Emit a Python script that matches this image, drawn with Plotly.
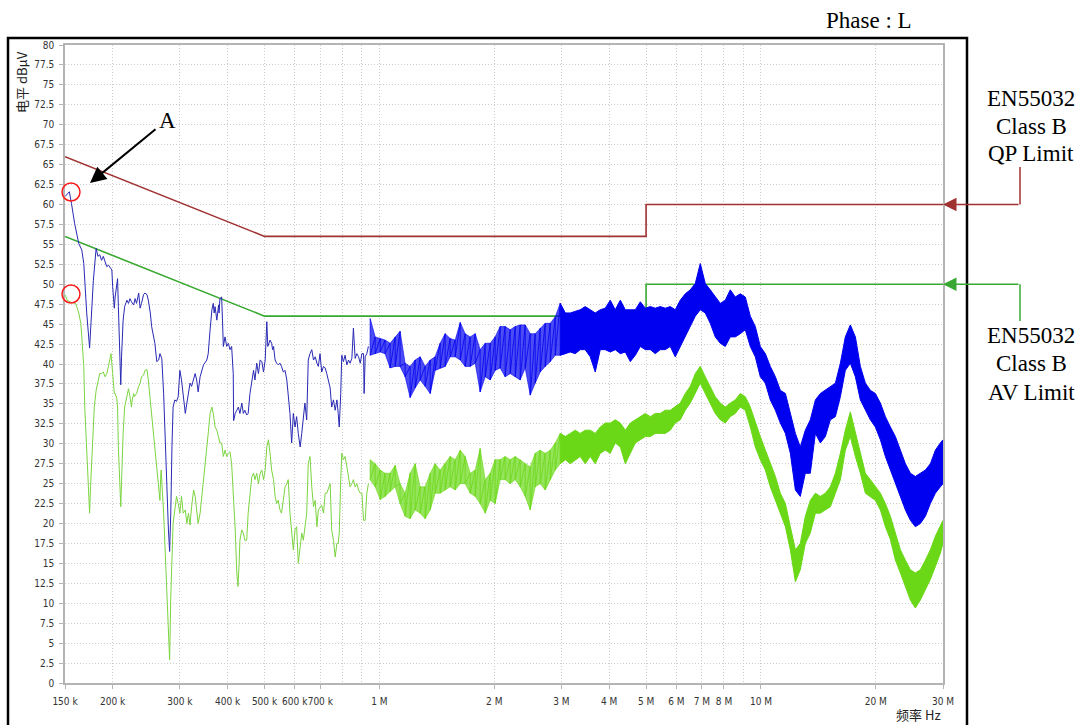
import plotly.graph_objects as go

# ---------------- measured spectrum, 150 kHz .. 1 MHz (single sweep line) ----------------
BLUE_LF_KHZ = [
    150, 154, 156, 159, 163, 166, 168, 171, 174, 176,
    178, 181, 183, 185, 187, 189, 191, 193, 195, 197,
    199, 200, 202, 203, 205, 206, 207, 209, 210, 211,
    213, 215, 218, 220, 222, 224, 227, 229, 231, 234,
    236, 238, 241, 243, 246, 248, 251, 253, 256, 258,
    261, 264, 266, 269, 272, 274, 277, 280, 282, 284,
    286, 288, 291, 294, 297, 300, 303, 306, 310, 313,
    316, 319, 322, 326, 329, 332, 335, 339, 342, 346,
    353, 356, 360, 364, 367, 369, 371, 375, 379, 380,
    382, 386, 388, 390, 394, 398, 402, 406, 410, 414,
    415, 419, 423, 427, 431, 436, 440, 444, 449, 453,
    458, 463, 468, 472, 477, 482, 487, 492, 497, 502,
    507, 510, 517, 522, 525, 528, 533, 538, 543, 549,
    554, 560, 566, 572, 577, 583, 589, 595, 601, 607,
    613, 620, 626, 632, 638, 645, 651, 658, 665, 672,
    679, 686, 692, 699, 706, 714, 721, 728, 736, 743,
    750, 758, 766, 774, 780, 785, 792, 797, 805, 813,
    822, 830, 838, 847, 855, 860, 864, 873, 882, 891,
    900, 909, 912, 918, 927, 936,
]
BLUE_LF_DB = [
    61.0, 61.6, 60.1, 57.6, 55.1, 54.3, 52.6, 46.4, 42.0, 46.4,
    50.5, 54.5, 53.5, 53.7, 53.0, 53.5, 52.8, 52.2, 52.4, 52.0,
    51.8, 49.7, 47.0, 48.4, 50.5, 50.7, 47.2, 40.5, 37.4, 40.9,
    45.5, 47.2, 48.0, 47.6, 48.2, 47.8, 47.4, 48.2, 47.6, 48.9,
    47.0, 47.6, 48.7, 48.9, 48.7, 48.0, 46.4, 44.7, 43.6, 42.6,
    40.3, 40.5, 41.3, 40.7, 36.3, 31.3, 25.5, 19.2, 16.5, 21.3,
    29.6, 34.6, 35.5, 35.3, 35.9, 39.2, 38.0, 36.3, 33.8, 35.1,
    36.3, 37.6, 37.2, 38.0, 38.8, 38.0, 36.5, 38.4, 39.2, 39.9,
    40.5, 41.3, 44.3, 46.8, 47.6, 46.4, 47.2, 45.5, 47.4, 46.4,
    48.2, 48.4, 45.5, 42.2, 43.4, 42.2, 42.6, 41.8, 42.2, 38.8,
    32.9, 33.8, 34.2, 34.6, 33.8, 35.1, 33.8, 34.2, 33.6, 33.8,
    36.3, 38.0, 39.2, 38.0, 40.1, 38.8, 40.5, 40.3, 39.0, 40.5,
    45.3, 42.2, 43.0, 42.6, 41.8, 42.2, 40.5, 40.1, 39.9, 40.1,
    39.7, 39.0, 39.2, 38.0, 36.3, 33.8, 30.1, 33.8, 32.1, 33.4,
    31.3, 29.6, 31.3, 33.8, 35.1, 33.0, 40.5, 41.3, 41.8, 40.5,
    40.9, 40.1, 39.7, 41.3, 39.0, 39.7, 39.5, 38.8, 37.6, 37.0,
    34.6, 35.5, 34.2, 35.5, 33.8, 32.1, 36.3, 41.1, 40.3, 41.1,
    39.9, 40.5, 40.1, 40.7, 44.5, 41.1, 40.7, 41.3, 40.9, 40.1,
    41.3, 41.3, 36.3, 40.9, 41.3, 42.2,
]

GREEN_LF_KHZ = [
    150, 152, 156, 160, 163, 165, 166, 168, 169, 171,
    173, 174, 175, 176, 178, 179, 181, 183, 185, 187,
    189, 191, 193, 195, 197, 198, 200, 202, 203, 205,
    206, 207, 210, 211, 213, 215, 218, 220, 222, 224,
    225, 227, 228, 231, 234, 236, 238, 241, 243, 246,
    248, 251, 253, 256, 258, 261, 264, 266, 267, 268,
    272, 274, 277, 280, 282, 284, 286, 288, 291, 294,
    297, 300, 303, 306, 310, 313, 316, 319, 322, 326,
    329, 332, 335, 339, 342, 346, 353, 356, 360, 364,
    367, 371, 375, 379, 382, 386, 390, 394, 398, 402,
    406, 410, 414, 419, 423, 426, 429, 431, 436, 440,
    444, 449, 453, 458, 463, 468, 472, 477, 482, 487,
    492, 497, 502, 507, 512, 517, 522, 528, 533, 538,
    543, 549, 554, 560, 566, 572, 577, 583, 589, 595,
    601, 607, 613, 620, 626, 632, 638, 645, 651, 658,
    665, 672, 679, 686, 692, 699, 706, 714, 721, 728,
    736, 743, 750, 758, 766, 774, 780, 785, 792, 797,
    805, 813, 822, 830, 838, 847, 855, 864, 873, 882,
    891, 900, 909, 918, 927, 936,
]
GREEN_LF_DB = [
    48.7, 48.0, 47.7, 47.6, 46.4, 45.1, 43.4, 39.7, 34.6, 29.6,
    24.6, 21.3, 24.6, 27.5, 31.3, 34.6, 36.7, 38.0, 38.8, 38.8,
    39.0, 38.4, 38.8, 39.7, 40.9, 41.3, 38.8, 36.3, 36.3, 35.7,
    34.6, 29.6, 22.1, 25.5, 31.3, 34.6, 36.3, 36.9, 35.9, 34.6,
    35.5, 36.3, 35.9, 36.3, 37.2, 37.6, 38.4, 38.6, 39.2, 39.3,
    38.0, 35.5, 32.9, 31.3, 29.6, 27.1, 24.2, 22.9, 25.5, 26.7,
    21.3, 17.1, 12.9, 6.6, 2.9, 10.8, 17.1, 20.0, 21.7, 23.4,
    22.5, 21.3, 23.4, 21.3, 21.7, 20.0, 21.3, 19.8, 22.1, 24.2,
    23.4, 21.7, 20.0, 21.3, 23.0, 25.5, 29.6, 31.3, 33.8, 34.6,
    33.8, 32.1, 31.7, 30.9, 30.1, 30.1, 28.4, 29.2, 28.4, 28.8,
    29.0, 27.5, 24.2, 19.2, 13.8, 12.1, 15.0, 17.9, 19.2, 18.8,
    17.9, 17.9, 21.3, 23.8, 25.8, 26.3, 25.5, 26.3, 25.0, 26.3,
    26.7, 25.5, 26.7, 29.6, 30.5, 28.8, 26.7, 25.5, 23.4, 22.5,
    22.9, 21.7, 21.3, 22.9, 24.6, 25.0, 25.5, 21.3, 18.8, 16.7,
    19.2, 19.6, 15.0, 17.1, 18.8, 17.9, 19.6, 21.3, 27.5, 28.4,
    24.6, 22.1, 22.9, 19.6, 21.7, 22.1, 22.3, 21.3, 23.8, 23.8,
    24.6, 25.0, 19.2, 17.9, 15.8, 17.5, 17.5, 18.8, 25.5, 28.8,
    28.0, 28.4, 27.1, 25.5, 24.6, 25.0, 25.5, 24.6, 25.0, 24.2,
    23.8, 23.8, 20.4, 20.4, 23.8, 25.0,
]

# ---------------- dense sweep above ~1 MHz: upper / lower envelope of the noise band ----------------
SWEEP_MHZ = [
    0.946, 0.975, 1.005, 1.035, 1.067, 1.100, 1.133, 1.168, 1.204, 1.241,
    1.279, 1.318, 1.359, 1.400, 1.443, 1.487, 1.533, 1.580, 1.629, 1.678,
    1.730, 1.783, 1.837, 1.894, 1.952, 2.011, 2.073, 2.136, 2.202, 2.270,
    2.339, 2.411, 2.485, 2.561, 2.639, 2.720, 2.804, 2.890, 2.978, 3.070,
    3.164, 3.261, 3.360, 3.463, 3.570, 3.679, 3.792, 3.908, 4.028, 4.151,
    4.280, 4.411, 4.546, 4.685, 4.829, 4.977, 5.129, 5.286, 5.446, 5.613,
    5.785, 5.962, 6.145, 6.334, 6.528, 6.729, 6.935, 7.146, 7.365, 7.591,
    7.824, 8.064, 8.311, 8.565, 8.828, 9.099, 9.377, 9.665, 9.961, 10.27,
    10.58, 10.91, 11.24, 11.59, 11.94, 12.31, 12.68, 13.07, 13.47, 13.89,
    14.31, 14.75, 15.20, 15.67, 16.15, 16.64, 17.15, 17.68, 18.22, 18.78,
    19.35, 19.95, 20.56, 21.19, 21.84, 22.51, 23.20, 23.91, 24.64, 25.39,
    26.17, 26.97, 27.80, 28.65, 29.53, 30.0,
]
BLUE_HI = [
    45.7, 43.4, 43.2, 43.0, 42.6, 43.4, 44.1, 40.1, 39.7, 40.5,
    40.9, 39.7, 40.5, 40.9, 42.6, 43.8, 43.2, 43.0, 45.2, 43.8,
    43.4, 43.8, 41.8, 42.6, 42.6, 43.4, 44.7, 44.7, 44.3, 44.7,
    44.9, 44.9, 43.8, 43.8, 44.5, 45.1, 45.1, 45.9, 47.6, 46.4,
    46.4, 46.6, 46.8, 47.2, 46.8, 46.4, 46.8, 47.0, 48.0, 46.8,
    48.0, 46.8, 46.8, 46.8, 47.8, 47.0, 47.2, 47.0, 47.2, 47.0,
    47.2, 46.8, 48.0, 48.8, 49.3, 50.1, 52.6, 50.1, 49.3, 48.4,
    47.6, 48.0, 49.3, 48.4, 48.8, 48.4, 46.0, 44.7, 42.2, 41.3,
    39.7, 38.4, 36.7, 36.3, 33.8, 31.3, 29.6, 31.7, 33.0, 35.5,
    36.3, 36.7, 37.2, 37.6, 40.1, 43.4, 44.9, 43.4, 39.7, 37.6,
    36.7, 36.3, 35.1, 33.4, 32.1, 30.9, 29.2, 27.5, 26.3, 25.9,
    26.3, 26.7, 27.5, 29.2, 30.1, 30.5,
]
BLUE_LO = [
    41.1, 41.3, 41.5, 41.3, 39.5, 39.7, 39.7, 38.4, 35.8, 37.0,
    38.0, 37.2, 36.3, 39.2, 39.5, 39.7, 40.9, 40.9, 40.5, 39.7,
    39.7, 40.1, 36.5, 38.4, 38.0, 39.2, 39.5, 38.4, 38.8, 38.4,
    38.0, 39.5, 36.1, 37.6, 39.0, 39.7, 40.3, 41.1, 41.1, 41.3,
    41.5, 41.3, 41.8, 41.8, 40.9, 39.0, 41.8, 41.8, 41.5, 41.8,
    41.3, 41.5, 40.3, 41.1, 42.2, 41.8, 41.8, 41.3, 41.8, 41.8,
    42.2, 40.9, 42.2, 43.4, 44.7, 46.0, 46.8, 46.4, 45.1, 43.4,
    42.6, 42.2, 43.4, 43.4, 43.8, 44.3, 42.2, 40.9, 38.4, 37.6,
    35.5, 34.2, 32.6, 31.3, 28.8, 24.2, 23.4, 26.3, 26.3, 31.3,
    30.1, 30.9, 33.0, 33.4, 35.9, 39.2, 40.1, 38.4, 35.5, 34.2,
    33.0, 32.1, 30.5, 28.4, 26.7, 25.0, 23.4, 21.7, 20.4, 19.6,
    20.0, 20.9, 22.5, 23.8, 24.6, 25.0,
]
GREEN_HI = [
    28.0, 27.5, 26.7, 26.3, 26.3, 27.3, 25.0, 23.8, 26.3, 27.5,
    24.6, 24.6, 26.3, 27.5, 26.7, 27.5, 28.4, 28.0, 29.2, 28.4,
    26.3, 26.7, 29.4, 25.5, 26.3, 28.0, 28.0, 28.4, 28.0, 28.4,
    28.0, 27.5, 27.1, 28.8, 29.2, 28.8, 29.2, 30.1, 31.3, 30.9,
    31.3, 31.7, 31.3, 31.7, 31.7, 31.3, 32.1, 32.6, 32.6, 33.0,
    32.6, 31.7, 32.6, 33.0, 33.4, 33.8, 33.4, 33.8, 33.8, 34.2,
    34.2, 34.6, 35.1, 36.3, 37.2, 38.8, 39.7, 38.4, 37.2, 35.9,
    35.1, 34.6, 35.1, 35.5, 36.3, 35.9, 34.6, 32.6, 30.9, 29.2,
    27.5, 25.9, 23.8, 22.5, 19.6, 16.7, 17.5, 20.9, 22.9, 23.8,
    23.4, 23.8, 24.6, 26.3, 28.8, 31.7, 34.0, 31.3, 28.8, 26.3,
    25.5, 24.6, 23.8, 22.5, 20.9, 18.8, 16.7, 15.4, 14.2, 13.8,
    14.2, 15.4, 16.7, 18.4, 19.6, 20.4,
]
GREEN_LO = [
    25.5, 24.6, 23.0, 23.4, 24.0, 24.6, 22.5, 20.9, 20.6, 21.7,
    21.3, 20.6, 21.7, 23.8, 23.8, 24.2, 24.6, 24.2, 25.0, 25.0,
    23.8, 23.4, 22.5, 21.3, 22.9, 22.5, 25.5, 25.5, 25.0, 25.5,
    24.6, 23.4, 21.7, 24.6, 25.0, 24.2, 25.5, 26.7, 27.5, 28.0,
    27.5, 28.0, 28.4, 27.5, 28.4, 27.5, 28.8, 29.2, 28.8, 30.1,
    29.6, 27.5, 28.8, 30.1, 30.5, 30.9, 30.9, 31.3, 31.3, 31.3,
    31.7, 32.6, 33.0, 34.2, 35.1, 36.3, 37.6, 36.3, 35.1, 33.8,
    33.0, 32.6, 33.4, 33.8, 34.6, 34.2, 32.1, 29.6, 28.0, 26.7,
    24.6, 23.0, 21.3, 19.6, 16.7, 12.7, 14.2, 17.5, 18.8, 21.3,
    21.3, 21.7, 22.1, 23.8, 25.5, 29.2, 30.9, 28.4, 26.3, 23.8,
    23.4, 22.9, 21.7, 19.6, 18.0, 15.4, 13.8, 12.1, 10.4, 9.4,
    10.4, 11.7, 13.0, 14.6, 16.3, 17.5,
]

# ---------------- EN55032 Class B limits ----------------
LIMIT_MHZ = [0.15, 0.5, 5.0, 5.0, 30.0]
QP_LIMIT_DB = [66, 56, 56, 60, 60]
AV_LIMIT_DB = [56, 46, 46, 50, 50]

# ---------------- axis ticks ----------------
X_TICK_HZ = [150e3, 200e3, 300e3, 400e3, 500e3, 600e3, 700e3, 1e6, 2e6, 3e6,
             4e6, 5e6, 6e6, 7e6, 8e6, 10e6, 20e6, 30e6]
X_TICK_TEXT = ["150 k", "200 k", "300 k", "400 k", "500 k", "600 k", "700 k", "1 M", "2 M", "3 M",
               "4 M", "5 M", "6 M", "7 M", "8 M", "10 M", "20 M", "30 M"]
X_GRID_ONLY_HZ = [800e3, 900e3, 9e6]
Y_TICKS = [0, 2.5, 5, 7.5, 10, 12.5, 15, 17.5, 20, 22.5, 25, 27.5, 30, 32.5, 35, 37.5, 40,
           42.5, 45, 47.5, 50, 52.5, 55, 57.5, 60, 62.5, 65, 67.5, 70, 72.5, 75, 77.5, 80]
Y_TICK_TEXT = ["0", "2.5", "5", "7.5", "10", "12.5", "15", "17.5", "20", "22.5", "25", "27.5", "30",
               "32.5", "35", "37.5", "40", "42.5", "45", "47.5", "50", "52.5", "55", "57.5", "60",
               "62.5", "65", "67.5", "70", "72.5", "75", "77.5", "80"]

# ---------------- styling ----------------
QP_COLOR = "#a03232"
AV_COLOR = "#38a832"
BLUE_LINE = "#2828b4"
BLUE_BAND = "#0000f0"
GREEN_LINE = "#7bd440"
GREEN_BAND = "#6ad816"
GRID = "#cccccc"
GRID_DASH = "1px,2px"
AXIS = "#b4b4b4"
SERIF = "Liberation Serif, Times New Roman, serif"
TICKFONT = dict(family="Liberation Sans Narrow, DejaVu Sans Condensed, Liberation Sans, Arial",
                size=10, color="#333333")

# plot-area geometry (pixels) used to place the surrounding annotations
L, R, T, B = 65, 943, 45, 683


def px(x):
    return (x - L) / (R - L)


def py(y):
    return (B - y) / (B - T)


def sawtooth(f, hi, lo):
    xs, ys = [], []
    for a, h, l in zip(f, hi, lo):
        xs += [a, a]
        ys += [h, l]
    return xs, ys


sweep_hz = [v * 1e6 for v in SWEEP_MHZ]
SPLIT = 40  # sweep points up to ~3 MHz are drawn as a looser scribble

fig = go.Figure()

# limit lines
lim_hz = [v * 1e6 for v in LIMIT_MHZ]
fig.add_trace(go.Scatter(x=lim_hz, y=QP_LIMIT_DB, mode="lines",
                         line=dict(color=QP_COLOR, width=1.6), hoverinfo="skip"))
fig.add_trace(go.Scatter(x=lim_hz, y=AV_LIMIT_DB, mode="lines",
                         line=dict(color=AV_COLOR, width=1.6), hoverinfo="skip"))


def add_band(hi, lo, band_color, faint_fill):
    # lower part (to ~3 MHz): translucent fill + scribble
    fa = sweep_hz[:SPLIT]
    fig.add_trace(go.Scatter(x=fa, y=lo[:SPLIT], mode="lines", line=dict(width=0.6, color=band_color),
                             hoverinfo="skip"))
    fig.add_trace(go.Scatter(x=fa, y=hi[:SPLIT], mode="lines", line=dict(width=0.6, color=band_color),
                             fill="tonexty", fillcolor=faint_fill, hoverinfo="skip"))
    xs, ys = sawtooth(fa, hi[:SPLIT], lo[:SPLIT])
    fig.add_trace(go.Scatter(x=xs, y=ys, mode="lines", line=dict(width=0.8, color=band_color),
                             hoverinfo="skip"))
    # upper part: solid band
    fb = sweep_hz[SPLIT - 2:]
    fig.add_trace(go.Scatter(x=fb, y=lo[SPLIT - 2:], mode="lines", line=dict(width=1, color=band_color),
                             hoverinfo="skip"))
    fig.add_trace(go.Scatter(x=fb, y=hi[SPLIT - 2:], mode="lines", line=dict(width=1, color=band_color),
                             fill="tonexty", fillcolor=band_color, hoverinfo="skip"))


# average detector trace
fig.add_trace(go.Scatter(x=[v * 1e3 for v in GREEN_LF_KHZ], y=GREEN_LF_DB, mode="lines",
                         line=dict(color=GREEN_LINE, width=1), hoverinfo="skip"))
add_band(GREEN_HI, GREEN_LO, GREEN_BAND, "rgba(106,216,22,0.7)")

# peak / quasi-peak trace
fig.add_trace(go.Scatter(x=[v * 1e3 for v in BLUE_LF_KHZ], y=BLUE_LF_DB, mode="lines",
                         line=dict(color=BLUE_LINE, width=1), hoverinfo="skip"))
add_band(BLUE_HI, BLUE_LO, BLUE_BAND, "rgba(0,0,240,0.7)")

fig.update_xaxes(
    type="log", range=[5.176091, 7.477121],
    tickmode="array", tickvals=X_TICK_HZ, ticktext=X_TICK_TEXT, tickangle=0,
    showgrid=True, gridcolor=GRID, griddash=GRID_DASH, gridwidth=1,
    minor=dict(tickvals=X_GRID_ONLY_HZ, showgrid=True, gridcolor=GRID, griddash=GRID_DASH, ticklen=0),
    showline=True, linecolor=AXIS, linewidth=1.5, mirror=True,
    ticks="outside", ticklen=4, tickcolor=AXIS, tickfont=TICKFONT, ticklabelstandoff=4,
    zeroline=False,
)
fig.update_yaxes(
    range=[0, 80], tickmode="array", tickvals=Y_TICKS, ticktext=Y_TICK_TEXT,
    showgrid=True, gridcolor=GRID, griddash=GRID_DASH, gridwidth=1,
    showline=True, linecolor=AXIS, linewidth=1.5, mirror=True,
    ticks="outside", ticklen=4, tickcolor=AXIS, tickfont=TICKFONT, ticklabelstandoff=3,
    zeroline=False,
)

annotations = [
    dict(text="Phase : L", x=px(869), y=py(20), font=dict(family=SERIF, size=23, color="black")),
    dict(text="电平 dBµV", x=px(21), y=py(82), textangle=-90,
         font=dict(family="Noto Sans CJK SC", size=13, color="#222222")),
    dict(text="频率 Hz", x=px(943), y=py(714), xanchor="right",
         font=dict(family="Noto Sans CJK SC", size=13, color="#222222")),
    dict(text="A", x=px(167), y=py(121), font=dict(family=SERIF, size=23, color="black")),
]
for txt, yy in [("EN55032", 98), ("Class B", 126), ("QP Limit", 154),
                ("EN55032", 335), ("Class B", 363), ("AV Limit", 392)]:
    annotations.append(dict(text=txt, x=px(1031), y=py(yy), font=dict(family=SERIF, size=23, color="black")))
for a in annotations:
    a.update(xref="paper", yref="paper", showarrow=False)
    a.setdefault("xanchor", "center")
    a.setdefault("yanchor", "middle")

# pointer arrows
annotations.append(dict(x=px(90), y=py(183), xref="paper", yref="paper", ax=67, ay=-55, text="",
                        showarrow=True, arrowhead=2, arrowsize=1.6, arrowwidth=2, arrowcolor="black"))
annotations.append(dict(x=1, y=60, xref="paper", yref="y", ax=77, ay=0, text="",
                        showarrow=True, arrowhead=2, arrowsize=1.8, arrowwidth=1.5, arrowcolor=QP_COLOR))
annotations.append(dict(x=1, y=50, xref="paper", yref="y", ax=77, ay=0, text="",
                        showarrow=True, arrowhead=2, arrowsize=1.8, arrowwidth=1.5, arrowcolor=AV_COLOR))

shapes = [
    # outer frame
    dict(type="rect", xref="paper", yref="paper", x0=px(8), x1=px(967), y0=py(745), y1=py(38),
         line=dict(color="black", width=2.5)),
    # leader lines from the limit captions
    dict(type="line", xref="paper", yref="paper", x0=px(1020), x1=px(1020), y0=py(204.5), y1=py(167),
         line=dict(color=QP_COLOR, width=1.5)),
    dict(type="line", xref="paper", yref="paper", x0=px(1020), x1=px(1020), y0=py(284.3), y1=py(321),
         line=dict(color=AV_COLOR, width=1.5)),
    # highlighted starting points
    dict(type="circle", xref="paper", yref="paper", x0=px(62), x1=px(80), y0=py(201), y1=py(183),
         line=dict(color="#ff1a1a", width=1.5)),
    dict(type="circle", xref="paper", yref="paper", x0=px(62), x1=px(80), y0=py(303), y1=py(285),
         line=dict(color="#ff1a1a", width=1.5)),
]

fig.update_layout(
    width=1083, height=725,
    margin=dict(l=L, r=1083 - R, t=T, b=725 - B),
    paper_bgcolor="white", plot_bgcolor="white",
    showlegend=False,
    annotations=annotations, shapes=shapes,
)

fig.write_html("out.html")
